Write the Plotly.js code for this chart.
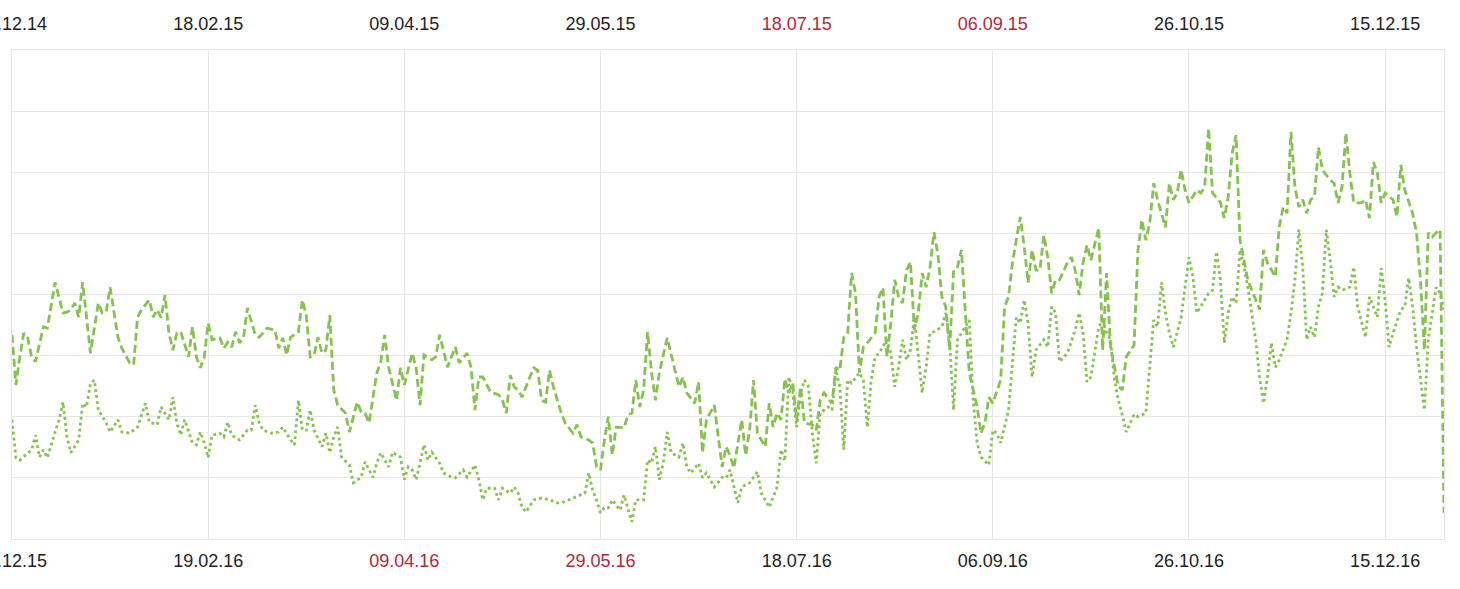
<!DOCTYPE html>
<html><head><meta charset="utf-8">
<script src="https://cdn.plot.ly/plotly-3.0.1.min.js"></script>
<style>html,body{margin:0;padding:0;background:#fff;overflow:hidden}#chart{width:1460px;height:589px}</style>
</head><body><div id="chart"></div>
<script>
// Tick positions (day index from start of each year-window) and labels
const tickDays = [0,50,100,150,200,250,300,350];
const topLabels = ['30.12.14','18.02.15','09.04.15','29.05.15','18.07.15','06.09.15','26.10.15','15.12.15'];
const bottomLabels = ['31.12.15','19.02.16','09.04.16','29.05.16','18.07.16','06.09.16','26.10.16','15.12.16'];
const weekendLabels = ['18.07.15','06.09.15','09.04.16','29.05.16'];

// Series on the bottom axis (2016), dashed
const days2016 = [
0,1,2,3,4,5,6,8,9,11,
13,14,15,16,17,18,19,20,22,23,
24,25,27,28,30,31,32,33,35,36,
37,38,39,40,41,42,43,45,46,47,
48,49,50,51,53,54,55,56,57,58,
59,60,62,63,65,67,68,69,70,71,
73,74,75,76,77,78,79,80,81,82,
83,85,86,88,89,90,91,93,94,95,
96,98,99,100,102,103,104,105,107,108,
109,111,112,113,114,116,117,118,119,120,
122,124,125,126,127,128,129,130,132,133,
134,135,136,137,138,140,141,143,144,145,
147,148,149,150,151,152,153,154,156,157,
158,159,160,161,162,163,164,165,167,169,
170,171,172,174,175,176,177,179,181,182,
183,184,186,187,188,189,190,192,193,194,
195,196,197,198,199,200,201,202,204,205,
206,207,209,210,211,212,213,214,215,216,
217,218,220,221,222,223,224,225,226,227,
228,229,230,231,232,233,234,235,236,237,
238,239,240,241,242,243,244,246,247,248,
249,250,252,253,254,255,257,258,259,260,
261,262,263,264,265,266,267,269,270,271,
272,273,274,275,277,278,279,280,281,282,
283,284,286,287,288,289,290,291,292,294,
295,296,297,298,299,300,302,303,304,305,
306,308,309,310,311,312,313,314,315,318,
319,320,322,323,324,325,326,327,328,329,
330,331,332,333,334,336,337,338,339,340,
341,342,344,345,346,347,348,349,350,352,
353,354,355,357,358,359,360,361,362,363,
364,365];
const values2016 = [
33.4,25.2,29.8,33.7,32.9,29.8,29.0,34.7,34.5,42.0,
37.0,37.1,37.5,38.6,36.3,42.0,36.3,30.4,38.6,37.0,
37.1,41.2,33.0,31.2,28.8,28.5,36.3,37.5,39.1,36.3,
37.5,36.2,39.9,33.7,30.9,33.7,33.9,29.8,34.7,29.8,
28.0,29.8,35.3,32.6,32.9,31.2,32.2,31.4,33.9,32.1,
32.9,37.8,33.4,33.0,34.5,34.2,31.2,32.9,30.1,33.0,
33.9,39.1,36.6,29.8,30.1,33.0,30.4,30.9,36.6,24.4,
21.9,20.6,17.5,22.4,20.8,20.6,19.0,27.2,29.0,33.4,
28.1,22.7,28.0,25.2,30.4,28.1,21.9,30.1,29.3,29.8,
33.4,28.1,29.8,31.4,28.8,30.4,28.1,21.1,26.5,26.5,
24.0,23.6,22.7,20.6,26.8,24.9,24.4,23.2,26.5,28.0,
27.6,22.7,22.4,27.6,24.9,20.6,19.0,17.3,18.7,16.7,
16.2,15.7,11.8,11.3,16.2,20.0,13.7,18.3,18.2,20.3,
20.6,26.0,21.6,24.4,33.9,27.3,22.7,27.2,32.9,27.3,
24.9,26.5,23.9,22.2,25.7,14.1,19.5,21.9,11.8,15.1,
13.7,11.6,19.5,13.7,17.8,26.0,17.3,15.1,22.2,18.3,
20.6,19.5,26.2,23.9,25.5,19.5,24.9,19.0,18.7,17.8,
22.7,23.9,22.2,28.1,27.6,33.0,33.7,43.5,40.2,27.2,
31.4,32.1,33.7,39.6,41.1,29.8,35.3,42.4,39.6,38.6,
44.0,45.3,34.2,37.0,43.5,41.2,44.5,50.2,46.5,39.6,
38.0,30.9,44.0,44.5,47.3,37.0,27.2,21.6,17.3,19.0,
23.2,22.2,26.0,38.0,39.6,45.2,52.7,47.8,41.9,47.3,
44.0,44.0,49.7,46.1,40.2,42.4,42.4,45.2,46.1,44.0,
39.9,45.2,48.1,45.6,50.9,30.9,43.5,31.4,28.1,24.9,
24.4,29.8,31.7,47.3,52.2,48.9,51.7,58.2,55.5,51.0,
58.2,55.5,56.6,60.4,57.1,55.0,57.1,56.6,57.6,67.2,
56.6,55.1,52.5,56.0,63.1,66.1,48.9,45.6,42.4,37.5,
47.3,45.2,42.9,51.0,54.3,53.3,66.6,57.6,54.3,55.5,
53.3,55.5,56.0,64.1,60.4,58.7,58.2,55.0,57.6,66.4,
59.9,55.0,55.0,55.5,52.5,61.7,59.9,55.0,56.6,55.5,
52.7,61.2,57.1,53.3,50.1,42.4,30.9,50.1,49.4,50.1,
50.6,4.3];

// Series on the top axis (2015), dotted
const days2015 = [
0,1,2,4,5,6,7,8,9,11,
12,13,14,15,17,18,19,20,21,22,
24,25,27,28,30,32,34,35,37,38,
40,41,42,43,44,46,47,48,49,50,
51,53,54,55,56,58,60,61,62,63,
64,66,68,69,71,72,73,74,75,76,
77,79,80,81,82,83,84,86,87,89,
90,92,93,94,96,97,99,100,101,102,
103,104,105,106,107,109,110,112,113,115,
116,118,119,120,121,123,124,125,127,128,
129,130,131,133,135,137,139,140,142,144,
146,147,148,149,150,151,152,153,155,156,
157,158,159,161,162,163,164,165,166,167,
168,170,171,172,173,175,176,177,179,181,
182,183,185,186,188,190,191,193,195,196,
197,198,199,200,201,202,203,204,205,206,
208,209,210,211,212,213,214,216,217,218,
219,220,221,223,224,225,226,227,228,229,
230,231,232,233,234,235,237,238,239,240,
241,242,243,244,245,246,247,249,250,251,
252,254,255,256,257,258,259,260,261,263,
264,265,266,267,269,271,272,273,274,275,
277,278,279,280,281,282,283,284,286,287,
289,290,291,292,293,294,295,296,298,299,
300,301,302,304,305,306,307,308,309,310,
311,312,313,314,315,317,318,319,320,321,
322,323,325,326,327,328,329,330,331,332,
333,334,335,336,337,338,339,341,342,343,
345,346,347,348,349,350,351,352,354,355,
356,357,358,359,360,361,363,364,365];
const values2015 = [
19.5,13.3,12.9,14.1,14.6,17.0,13.4,14.6,13.3,17.5,
19.5,22.4,16.7,14.1,16.2,22.2,21.6,25.5,26.0,21.1,
19.0,17.5,19.5,17.5,17.3,18.3,22.2,19.1,18.7,21.6,
19.5,23.2,19.0,17.0,19.5,15.7,15.4,17.5,15.7,13.3,
17.0,17.3,16.7,19.1,17.0,16.2,17.8,17.8,21.9,19.0,
17.8,17.3,17.5,18.3,16.2,15.4,22.7,17.8,17.8,21.1,
17.8,15.1,17.3,14.1,16.7,18.3,13.4,12.1,9.2,10.1,
12.6,10.1,12.4,14.1,11.8,14.2,13.4,9.7,11.8,11.3,
9.7,12.4,15.4,12.9,14.2,12.4,10.8,10.1,10.0,11.3,
10.1,12.1,9.7,6.4,8.3,8.3,6.4,8.3,7.5,8.5,
7.5,5.2,4.4,6.4,6.7,6.4,5.9,5.9,6.4,6.9,
7.5,10.8,8.0,6.4,4.3,5.2,5.1,6.4,4.7,7.2,
5.1,2.8,6.4,6.4,12.9,12.4,15.1,9.7,12.4,17.5,
14.1,13.4,15.7,11.8,10.8,12.4,10.0,10.8,8.5,10.1,
10.0,11.3,5.9,8.5,9.2,11.0,7.5,5.2,8.5,14.6,
12.8,26.5,24.2,18.3,23.9,26.0,24.9,17.3,12.4,20.6,
21.6,21.1,27.6,24.9,14.6,26.0,25.5,27.2,26.0,18.3,
26.0,29.8,30.4,32.6,30.4,24.9,28.1,32.6,29.3,30.9,
36.3,30.4,23.9,28.1,33.7,33.9,34.7,37.0,32.1,21.1,
32.6,33.7,34.7,35.8,22.7,15.7,13.4,12.1,17.8,17.3,
15.7,21.1,28.8,36.3,35.3,39.1,35.3,26.5,30.9,32.6,
31.4,38.0,37.0,29.0,30.4,34.2,37.0,33.7,25.7,26.5,
34.7,35.8,33.7,32.6,26.0,22.7,20.3,17.5,20.4,20.0,
20.6,28.1,35.8,34.7,42.0,37.0,33.7,31.4,36.3,41.2,
46.1,42.9,37.0,39.1,40.2,40.7,47.0,42.4,32.1,37.0,
39.6,38.6,47.3,44.5,41.2,32.6,26.5,22.2,26.5,32.1,
28.1,29.3,32.6,37.0,42.4,50.6,44.5,32.6,34.7,33.0,
38.0,40.2,50.6,45.6,39.6,41.2,40.7,41.2,44.5,38.0,
33.0,39.6,38.0,36.3,44.3,39.1,31.4,33.7,37.5,38.0,
42.7,38.0,31.4,26.5,21.1,32.6,41.2,40.2,37.5];

const GREEN = '#86c24f';
const GRID = '#e6e6e6';
const FONT = 'Liberation Sans, Arial, sans-serif';
const label = t => weekendLabels.includes(t) ? '<span style="color:#b3283a">' + t + '</span>' : t;

const traces = [
  {x: days2015, y: values2015, xaxis: 'x2', yaxis: 'y', type: 'scatter', mode: 'lines',
   line: {color: GREEN, width: 2.8, dash: '2.8px,3.2px'}, hoverinfo: 'skip'},
  {x: days2016, y: values2016, xaxis: 'x', yaxis: 'y', type: 'scatter', mode: 'lines',
   line: {color: GREEN, width: 2.8, dash: '8px,4px'}, hoverinfo: 'skip'}
];

const xCommon = {
  range: [0, 365], tickmode: 'array', tickvals: tickDays, ticks: '',
  zeroline: false, ticklabeloverflow: 'allow', fixedrange: true,
  tickfont: {family: FONT, size: 18, color: '#222222'}
};

const layout = {
  width: 1460, height: 589,
  margin: {l: 12, r: 16, t: 50, b: 50, pad: 0},
  paper_bgcolor: '#fff', plot_bgcolor: '#fff',
  showlegend: false,
  xaxis: Object.assign({}, xCommon, {
    ticktext: bottomLabels.map(label), side: 'bottom', ticklabelstandoff: 5,
    showgrid: true, gridcolor: GRID, gridwidth: 1,
    showline: true, linecolor: GRID, linewidth: 1, mirror: true
  }),
  xaxis2: Object.assign({}, xCommon, {
    ticktext: topLabels.map(label), side: 'top', overlaying: 'x', ticklabelstandoff: 15,
    showgrid: false, showline: false
  }),
  yaxis: {
    range: [0, 80], tick0: 0, dtick: 10, showticklabels: false, ticks: '',
    showgrid: true, gridcolor: GRID, gridwidth: 1, zeroline: false,
    showline: true, linecolor: GRID, linewidth: 1, mirror: true, fixedrange: true
  }
};

Plotly.newPlot('chart', traces, layout, {displayModeBar: false, staticPlot: true});
</script>
</body></html>
